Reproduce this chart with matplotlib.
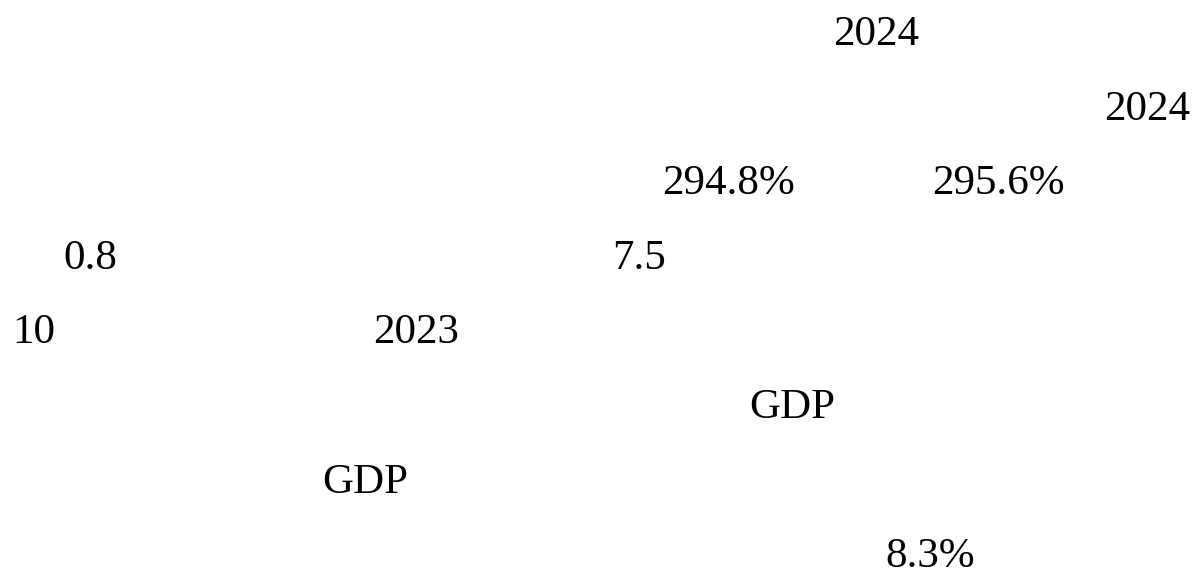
import matplotlib
matplotlib.use("Agg")
import matplotlib.pyplot as plt

# Visible (Latin) fragments of the paragraph; CJK glyphs are not rendered in the reference
fragments = ["2024", "2024", "294.8%", "295.6%", "0.8", "7.5", "10", "2023", "GDP", "GDP", "8.3%"]
line_index = [0, 1, 2, 2, 3, 3, 4, 4, 5, 6, 7]
x_px = [833, 1104, 662, 932, 63, 612, 12, 373, 749, 322, 885]

W, H = 1201, 578
first_baseline = 45
line_step = 74.6

fig = plt.figure(figsize=(W / 100, H / 100), dpi=100)
fig.patch.set_facecolor("white")

for txt, li, xp in zip(fragments, line_index, x_px):
    yb = first_baseline + li * line_step
    fig.text(xp / W, 1 - yb / H, txt, ha="left", va="baseline",
             fontsize=31, family=["Liberation Serif", "DejaVu Serif"], color="black")

fig.savefig("out.png", dpi=100, facecolor="white")
